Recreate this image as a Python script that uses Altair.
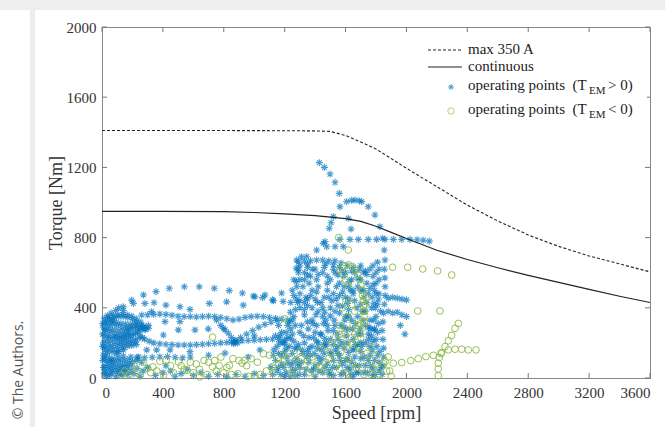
import altair as alt
import pandas as pd

# ---------------- data ----------------
x_ticks = [0, 400, 800, 1200, 1600, 2000, 2400, 2800, 3200, 3600]
y_ticks = [0, 400, 800, 1200, 1600, 2000]

max_speed = [0, 400, 800, 1200, 1400, 1500, 1600, 1700, 1800, 1900, 2000, 2200, 2400, 2600, 2800, 3000, 3200, 3400, 3600]
max_torque = [1410, 1410, 1410, 1409, 1408, 1405, 1382, 1345, 1305, 1250, 1195, 1090, 985, 895, 815, 750, 695, 650, 605]

cont_speed = [0, 400, 800, 1000, 1200, 1400, 1600, 1700, 1800, 1900, 2000, 2200, 2400, 2600, 2800, 3000, 3200, 3400, 3600]
cont_torque = [950, 950, 948, 943, 935, 925, 908, 892, 865, 830, 795, 728, 675, 628, 585, 545, 505, 466, 430]

blue_sparse = [(70,330),(140,385),(195,444),(272,473),(355,492),(442,511),(541,520),(639,520),(738,511),(836,498),
               (922,484),(994,467),(1055,458),(1120,445),(1180,484),
               (110,400),(140,406),(206,425),(282,425),(342,429),(420,415),(512,406),(578,391),(705,425),(819,434),
               (928,415),(1005,463),(1071,473),(1127,440),(1190,436),
               (261,359),(326,378),(414,321),(512,321),(611,274),(698,280),(797,283),(304,283),(403,245),(501,274),
               (294,160),(359,160),(447,160),(578,150),(808,142),(1038,160),(1000,240),(700,130),(240,120),(960,120)]

blue_left = [(20,320),(50,335),(80,345),(110,350),(140,350),(170,345),(200,335),(230,320),(260,300),(285,275),
             (10,290),(40,300),(70,305),(100,300),(130,290),(160,285),(190,290),(220,295),
             (60,260),(90,250),(120,245),(150,250),(175,262),
             (70,230),(100,225),(130,222),(160,228),(190,240),(220,255),(250,270),(280,280),
             (10,200),(40,190),(70,185),(100,185),(130,190),(160,195),(190,200),(220,205),
             (20,160),(50,150),(80,145),(110,150),(140,160),
             (5,250),(5,180),(8,130),(5,100),(10,60),(15,30),(30,10),
             (20,120),(50,115),(80,110),(110,115),(140,125),(30,80),(60,75),(90,72),(120,75),(150,80),(180,85),
             (40,45),(70,40),(100,38),(130,45),(160,50),(50,15),(90,10),(130,15),(170,20),(210,25),(250,10),
             (25,270),(45,230),(30,140),(60,100),(100,140),(200,95),(230,100),(260,90),(35,355),(60,370),(90,385)]

blue_left_fill = [(15,340),(45,345),(75,355),(105,360),(135,362),(165,360),(195,352),(225,338),(255,318),
                  (5,310),(35,315),(65,320),(95,318),(125,312),(155,308),(185,305),(215,310),(245,290),(275,295),
                  (305,300),(20,275),(50,280),(80,275),(110,268),(140,268),(170,275),(200,280),(230,285),
                  (15,240),(40,245),(85,235),(115,232),(145,238),(175,245),(205,250),(235,262),(265,285),
                  (25,215),(55,210),(85,205),(115,205),(145,210),(175,215),(205,220),(235,225),(265,230),
                  (15,175),(45,170),(75,165),(105,165),(135,172),(165,180),(195,185),(225,190),
                  (20,105),(45,95),(75,92),(105,95),(135,100),(165,105),
                  (15,60),(45,60),(75,55),(105,55),(135,60),(165,65),(195,70),
                  (20,25),(60,28),(110,25),(150,30),(190,40),(230,55),(270,40)]

blue_bands = [(300,360),(340,362),(380,365),(420,362),(460,358),(500,352),(540,350),(580,350),(620,348),(660,350),
              (700,352),(740,350),(780,345),(820,338),(860,330),(900,335),(940,345),(980,350),(1020,352),(1060,350),
              (1100,345),(1140,340),(1180,335),(1220,330),
              (250,240),(280,222),(310,210),(340,200),(380,195),(420,192),(460,190),(500,188),(540,188),(580,188),
              (620,190),(660,192),(700,195),(740,197),(780,200),(820,202),(850,205),(870,205),(880,210),(865,195),
              (875,215),(890,200),(920,212),(960,214),(1000,216),(1040,218),(1080,220),(1120,222),(1160,220),(1200,218),
              (910,230),(950,250),(990,270),(1030,290),(1070,305),(1110,318),(1150,328),
              (850,230),(830,255),(808,274),(780,300),(753,330),
              (190,120),(230,118),(280,115),(330,118),(380,120),(430,122),(480,118),(530,115),(580,120),
              (300,60),(350,15),(400,30),(420,70),(450,40),(480,10),(520,25),(560,50),(600,15),(650,30),
              (700,10),(760,20),(820,10),(880,20),(940,10),(1000,25),(1060,15)]

blue_center = [(1480,300),(1463,375),(1415,430),(1350,450),(1285,430),(1237,375),(1220,300),(1237,225),(1285,170),
               (1350,150),(1415,170),(1463,225),
               (1680,250),(1664,310),(1620,354),(1560,370),(1500,354),(1456,310),(1440,250),(1456,190),(1500,146),
               (1560,130),(1620,146),(1664,190),
               (1800,350),(1787,425),(1750,480),(1700,500),(1650,480),(1613,425),(1600,350),(1613,275),(1650,220),
               (1700,200),(1750,220),(1787,275),
               (1650,500),(1623,550),(1550,587),(1450,600),(1350,587),(1277,550),(1250,500),(1277,450),(1350,413),
               (1450,400),(1550,413),(1623,450),
               (1120,20),(1160,60),(1140,100),(1180,130),(1220,90),(1250,40),(1280,110),(1300,60),(1330,20),(1360,90),
               (1390,50),(1420,120),(1450,30),(1480,80),(1510,130),(1540,60),(1570,20),(1600,100),(1630,50),(1660,120),
               (1690,70),(1720,30),(1750,100),(1780,50),(1810,130),(1130,160),(1170,200),(1210,170),(1250,140),
               (1290,190),(1320,140),(1380,180),(1410,210),(1440,160),(1520,190),(1590,170),(1650,160),(1700,150),
               (1760,180),(1800,220),(1820,90),(1790,280),(1750,250),(1730,300),(1250,250),(1300,260),(1180,260),
               (1160,300),(1140,240),(1200,10),(1270,15),(1400,10),(1520,15),(1650,10),(1780,15),
               (1290,620),(1330,600),(1370,580),(1410,560),(1500,560),(1560,540),(1620,520),(1680,570),(1720,600),
               (1760,620),(1800,600),(1820,560),(1780,530),(1280,520),(1300,560),(1260,470),(1240,430),
               (1380,330),(1330,360),(1400,260),(1520,270),(1570,300),(1540,450),(1480,500),(1380,500),(1700,420),
               (1730,380),(1760,330),(1620,390),(1550,220),(1360,230),(1310,300),
               (1290,660),(1330,665),(1370,668),(1410,672),(1450,672),(1490,668),(1530,668),(1570,655),(1610,640),
               (1650,630),(1690,620),(1730,610),
               (1476,748),(1531,748),(1585,748),
               (1563,790),(1629,790),(1684,790),(1749,790),(1804,790),(1859,790),(1914,790),(1969,790),(2023,790),
               (2070,788),(2110,785),(2150,780),
               (1465,777),(1493,853),(1520,919),(1563,976),(1607,1005),(1640,1012),(1662,1014),(1690,1010),(1706,1005),
               (1749,976),(1793,929),(1826,862),(1844,796),(1854,729),(1859,672),(1505,885),(1618,910),(1636,849),
               (1428,1227),(1461,1200),(1498,1162),(1531,1115),(1559,1052),
               (1279,672),(1345,691),(1410,729),(1454,767),
               (1840,20),(1845,70),(1850,120),(1850,170),(1845,220),(1840,270),(1845,320),(1850,370),(1855,420),
               (1860,470),(1860,520),(1858,570),(1855,620),
               (1880,455),(1910,460),(1940,455),(1970,450),(2000,445),
               (1880,380),(1910,370),(1940,375),(1970,360),(2000,350),(1960,300),(1990,250)]

blue_center_fill = [(1150,40),(1180,80),(1210,30),(1240,70),(1270,50),(1310,90),(1340,50),(1370,130),(1400,70),
                    (1430,90),(1460,140),(1490,40),(1520,100),(1550,140),(1580,80),(1610,60),(1640,90),(1670,30),
                    (1700,110),(1730,70),(1760,130),(1790,100),(1820,40),
                    (1200,200),(1230,180),(1260,210),(1330,200),(1360,170),(1390,230),(1420,200),(1470,180),(1500,220),
                    (1550,180),(1610,200),(1680,190),(1730,200),(1770,240),(1810,260),
                    (1210,260),(1230,320),(1260,350),(1300,400),(1330,390),(1380,400),(1420,380),(1450,350),(1500,400),
                    (1530,380),(1580,410),(1640,330),(1680,350),(1720,460),(1770,400),(1810,420),(1820,480),(1790,500),
                    (1300,480),(1340,460),(1400,450),(1460,460),(1520,480),(1580,490),(1600,460),(1680,520),(1740,540),
                    (1800,540),(1320,520),(1360,540),(1420,520),(1480,540),(1540,520),(1600,600),(1660,600),(1700,560),
                    (1780,580),(1820,620),(1300,640),(1350,630),(1400,620),(1460,630),(1520,620),(1580,610)]

blue_center_more = [(1110,60),(1125,130),(1150,180),(1175,20),(1195,60),(1215,120),(1235,10),(1255,90),(1265,170),
                    (1285,80),(1295,20),(1315,160),(1325,240),(1345,120),(1355,280),(1375,40),(1385,310),(1395,140),
                    (1405,360),(1425,40),(1435,250),(1445,110),(1465,60),(1475,200),(1485,270),(1495,20),(1515,60),
                    (1525,330),(1535,160),(1545,250),(1565,100),(1575,200),(1585,30),(1595,330),(1605,240),(1615,110),
                    (1635,20),(1645,280),(1655,170),(1665,70),(1675,400),(1685,30),(1695,280),(1705,180),(1715,330),
                    (1725,120),(1745,30),(1755,290),(1765,70),(1775,160),(1785,330),(1795,20),(1805,180),(1815,310),
                    (1825,150),(1830,380),(1835,60),(1815,450),(1795,400),(1775,460),(1740,430),(1710,380),(1660,440),
                    (1630,500),(1590,520),(1560,470),(1510,440),(1490,460),(1440,430),(1410,490),(1370,470),(1330,430),
                    (1300,440),(1270,390),(1250,330),(1240,280),(1220,230),(1200,150),(1190,200),(1170,240),(1160,140),
                    (1270,300),(1350,320),(1410,300),(1470,330),(1530,300),(1590,290),(1700,250),(1760,280),(1780,210),
                    (1480,580),(1530,600),(1590,580),(1640,560),(1720,500),(1760,510),(1800,480),(1260,560),(1290,600),
                    (1330,560),(1380,620),(1420,590),(1470,650),(1520,645),(1560,630),(1640,610),(1700,640),(1740,590),
                    (1780,640),(1810,660),(1275,625),(1310,690),(1350,650)]

green_left = [(126,15),(251,15),(335,63),(405,15),(502,91),(558,44),(642,6),(670,100),(726,63),(781,119),
              (837,72),(893,25),(935,100),(1005,15),(1061,138),(1116,63),(180,20),(230,40),(300,55),(380,95),
              (450,70),(540,50),(600,30),(700,90),(740,100),(770,70),(800,30),(860,110),(920,85),(980,110),
              (1040,20),(1100,130),(726,233),(1200,337),(960,10),(620,80),
              (150,40),(210,70),(270,90),(320,30),(360,40),(420,100),(470,30),(520,70),(580,90),(640,50),
              (690,20),(750,40),(820,60),(850,20),(900,100),(950,70),(1020,90),(1080,40),(1150,110)]

green_center = [(1130,30),(1160,80),(1190,130),(1220,60),(1250,20),(1270,100),(1300,150),(1330,70),(1360,30),
                (1380,120),(1410,80),(1440,170),(1460,40),(1490,110),(1510,200),(1540,70),(1570,150),(1590,250),
                (1600,30),(1620,110),(1640,190),(1650,300),(1670,60),(1690,140),(1700,230),(1720,20),(1740,100),
                (1760,180),(1780,60),(1800,130),(1820,20),(1850,80),(1870,40),(1880,120),(1560,300),(1610,350),
                (1530,230),(1580,200),(1660,250),(1700,310),(1720,380),(1730,420),(1735,460),
                (1555,800),(1618,729),(1560,620),(1590,640),(1620,645),(1645,635),(1665,615),(1680,590),(1692,560),
                (1700,530),(1708,500),(1712,470),(1716,440),(1718,410),(1720,380),(1722,350),(1722,320),(1720,290),
                (1695,254),(1580,590),(1600,560),(1620,530),
                (1500,20),(1530,120),(1560,50),(1590,100),(1620,20),(1650,80),(1680,180),(1710,60),(1740,140),
                (1770,20),(1800,80),(1560,250),(1600,280),(1640,230),(1610,180),(1680,300),(1200,100),(1230,140),
                (1280,40),(1310,110),(1350,100),(1400,30),(1430,60),(1470,90),(1500,150),(1890,40),(1900,10),
                (1580,400),(1600,450),(1640,420),(1660,380)]

green_right = [(1909,631),(2008,631),(2107,621),(2205,610),(2297,587),(2074,382),(2220,382),
               (2341,311),(2319,283),(2297,243),(2275,212),(2253,179),(2231,145),(2216,117),(2209,85),(2209,51),(2209,13),
               (2275,160),(2319,164),(2363,164),(2406,160),(2457,160),
               (1914,84),(1969,88),(2028,99),(2078,110),(2128,122),(2177,129),(2227,139),(1860,95)]

# ---------------- tables ----------------
lines_df = pd.DataFrame({
    "speed": max_speed + cont_speed,
    "torque": max_torque + cont_torque,
    "series": ["max 350 A"] * len(max_speed) + ["continuous"] * len(cont_speed),
})
blue_pts = blue_sparse + blue_left + blue_left_fill + blue_bands + blue_center + blue_center_fill + blue_center_more
green_pts = green_left + green_center + green_right
blue_df = pd.DataFrame(blue_pts, columns=["speed", "torque"])
green_df = pd.DataFrame(green_pts, columns=["speed", "torque"])
xt_df = pd.DataFrame({"speed": x_ticks})
yt_df = pd.DataFrame({"torque": y_ticks})
one = pd.DataFrame({"a": [0]})

W, H = 548, 351
xs = alt.Scale(domain=[0, 3600], nice=False, zero=False)
ys = alt.Scale(domain=[0, 2000], nice=False, zero=False)
SERIF = "Liberation Serif"
BLUE = "#0072BD"
GREEN = "#8DBA48"
ASTER = "M-1,0L1,0M0,-1L0,1M-0.7,-0.7L0.7,0.7M-0.7,0.7L0.7,-0.7"

x_axis = alt.Axis(values=x_ticks, format="d", title="Speed [rpm]", ticks=False, labelPadding=7,
                  titlePadding=4, grid=False)
y_axis = alt.Axis(values=y_ticks, format="d", title="Torque [Nm]", ticks=False, labelPadding=6,
                  titlePadding=1, grid=False)
X = alt.X("speed:Q", scale=xs, axis=x_axis)
Y = alt.Y("torque:Q", scale=ys, axis=y_axis)

# page decoration (card shadow)
shade_top = alt.Chart(one).mark_rect(color="#eeeeee").encode(
    x=alt.value(-102), x2=alt.value(563), y=alt.value(-27), y2=alt.value(-17))
shade_left = alt.Chart(one).mark_rect(color="#ececec").encode(
    x=alt.value(-72), x2=alt.value(-67), y=alt.value(-17), y2=alt.value(400))
copyright = alt.Chart(one).mark_text(text="© The Authors.", font="Open Sans", fontSize=14,
                                     color="#555555", angle=270, align="center", baseline="middle").encode(
    x=alt.value(-83), y=alt.value(343))

blue = alt.Chart(blue_df).mark_point(shape=ASTER, filled=False, color=BLUE, size=50, strokeWidth=1.1).encode(x=X, y=Y)
green = alt.Chart(green_df).mark_point(shape="circle", filled=False, color=GREEN, size=45, strokeWidth=1,
                                       opacity=0.9).encode(x=X, y=Y)
dashed = alt.Chart(lines_df).transform_filter(alt.datum.series == "max 350 A").mark_line(
    color="#222222", strokeWidth=1.1, strokeDash=[3, 2]).encode(x=X, y=Y)
solid = alt.Chart(lines_df).transform_filter(alt.datum.series == "continuous").mark_line(
    color="#222222", strokeWidth=1.2).encode(x=X, y=Y)

# inward ticks on all four sides
tb = alt.Chart(xt_df).mark_rule(color="#777777").encode(x=X, y=alt.value(H), y2=alt.value(H - 5))
tt = alt.Chart(xt_df).mark_rule(color="#777777").encode(x=X, y=alt.value(0), y2=alt.value(5))
tl = alt.Chart(yt_df).mark_rule(color="#777777").encode(y=Y, x=alt.value(0), x2=alt.value(5))
tr = alt.Chart(yt_df).mark_rule(color="#777777").encode(y=Y, x=alt.value(W), x2=alt.value(W - 5))

# legend
LX0, LX1, TX, SX = 326, 360, 366, 349
leg_bg = alt.Chart(one).mark_rect(color="white").encode(
    x=alt.value(322), x2=alt.value(545), y=alt.value(12), y2=alt.value(96))
leg_dash = alt.Chart(one).mark_rule(color="#222222", strokeDash=[3, 2], strokeWidth=1.1).encode(
    x=alt.value(LX0), x2=alt.value(LX1), y=alt.value(23))
leg_solid = alt.Chart(one).mark_rule(color="#222222", strokeWidth=1.2).encode(
    x=alt.value(LX0), x2=alt.value(LX1), y=alt.value(40))
leg_blue = alt.Chart(one).mark_point(shape=ASTER, filled=False, color=BLUE, size=34, strokeWidth=1).encode(
    x=alt.value(SX), y=alt.value(60))
leg_green = alt.Chart(one).mark_point(shape="circle", filled=False, color=GREEN, size=40, strokeWidth=1).encode(
    x=alt.value(SX), y=alt.value(84))

def ltext(txt, x, y, size=15):
    return alt.Chart(one).mark_text(text=txt, font=SERIF, fontSize=size, color="#222222",
                                    align="left", baseline="middle").encode(x=alt.value(x), y=alt.value(y))

NB = "\u00a0"
T_W = 121
leg_texts = [
    ltext("max 350 A", TX, 22),
    ltext("continuous", TX, 39),
    ltext("operating points" + NB + NB + "(T", TX, 58),
    ltext("EM", TX + T_W, 64, 11),
    ltext("> 0)", TX + T_W + 19, 58),
    ltext("operating points" + NB + NB + "(T", TX, 82),
    ltext("EM", TX + T_W, 88, 11),
    ltext("< 0)", TX + T_W + 19, 82),
]

chart = alt.layer(
    blue, shade_top, shade_left, copyright, green, dashed, solid, tb, tt, tl, tr,
    leg_bg, leg_dash, leg_solid, leg_blue, leg_green, *leg_texts
).properties(
    width=W, height=H,
    autosize=alt.AutoSizeParams(type="none"),
    padding={"left": 102, "top": 27, "right": 15, "bottom": 49},
    background="white",
).configure_view(
    stroke="#888888", strokeWidth=1
).configure_axis(
    labelFont=SERIF, labelFontSize=15, labelColor="#333333",
    titleFont=SERIF, titleFontSize=18, titleFontWeight="normal", titleColor="#333333",
    domainColor="#888888", domainWidth=1,
)

chart.save("out.html", embed_options={"renderer": "svg", "actions": False})
